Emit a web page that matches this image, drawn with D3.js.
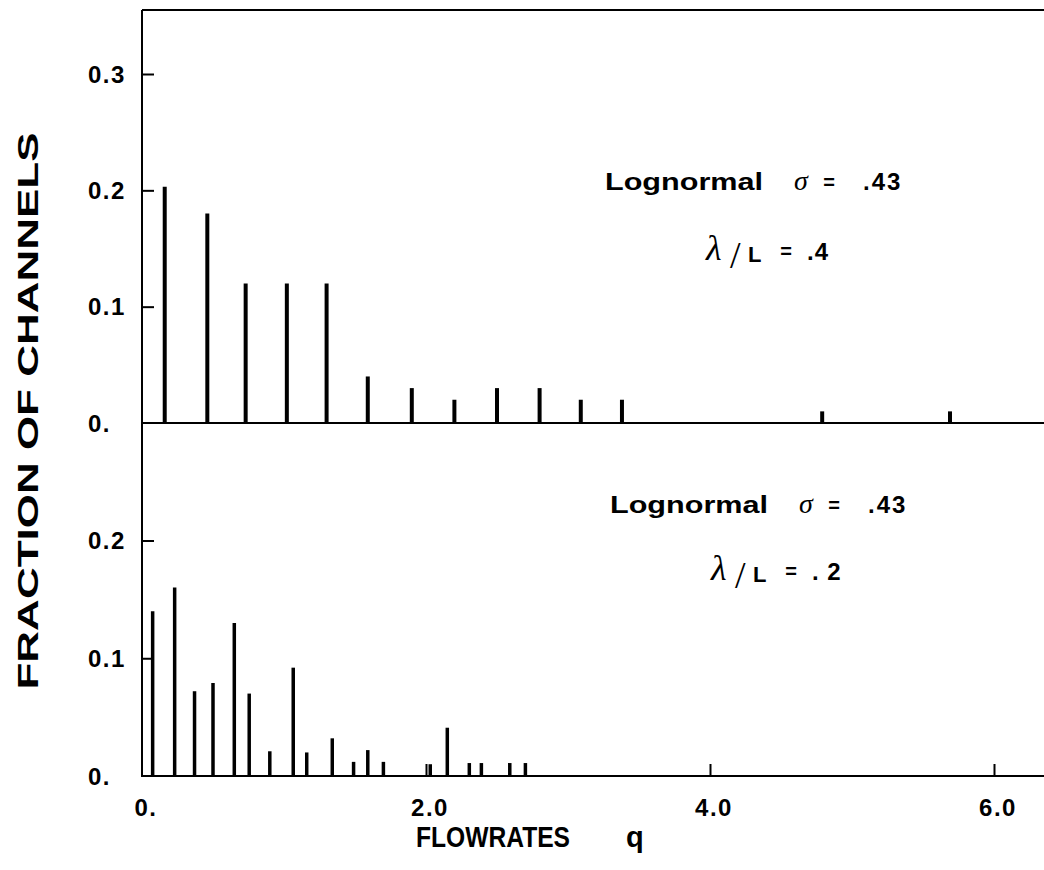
<!DOCTYPE html>
<html>
<head>
<meta charset="utf-8">
<script src="https://cdn.jsdelivr.net/npm/d3@7"></script>
<style>
  html, body { margin: 0; padding: 0; background: #fff; }
  svg { display: block; }
  .lbl { font-family: "Liberation Sans", Arial, sans-serif; font-weight: bold; fill: #000; }
  .greek { font-family: "Liberation Serif", "DejaVu Serif", serif; font-style: italic; fill: #000; }
</style>
</head>
<body>
<svg id="chart" width="1044" height="870"></svg>
<script>
// ---- data ----
const topQ    = [0.16, 0.46, 0.73, 1.02, 1.30, 1.59, 1.90, 2.20, 2.50, 2.80, 3.09, 3.38, 4.79, 5.69];
const topFrac = [0.203, 0.18, 0.12, 0.12, 0.12, 0.04, 0.03, 0.02, 0.03, 0.03, 0.02, 0.02, 0.01, 0.01];

const botQ    = [0.075, 0.23, 0.37, 0.50, 0.65, 0.755, 0.90, 1.065, 1.16, 1.34, 1.49, 1.59, 1.70, 2.03, 2.15, 2.305, 2.39, 2.59, 2.70];
const botFrac = [0.14, 0.16, 0.072, 0.079, 0.13, 0.07, 0.021, 0.092, 0.02, 0.032, 0.012, 0.022, 0.012, 0.01, 0.041, 0.011, 0.011, 0.011, 0.011];

const xTicks      = [0, 2, 4, 6];
const xTickLabels = ["0.", "2.0", "4.0", "6.0"];
const yTopTicks      = [0, 0.1, 0.2, 0.3];
const yTopTickLabels = ["0.", "0.1", "0.2", "0.3"];
const yBotTicks      = [0, 0.1, 0.2];
const yBotTickLabels = ["0.", "0.1", "0.2"];

const xTitle = "FLOWRATES";
const xTitleVar = "q";
const yTitle = "FRACTION OF CHANNELS";
const annoName = "Lognormal";
const annoSigma = ".43";
const annoRatio = [".4", ". 2"];

// ---- layout ----
const svg = d3.select("#chart");
const W = 1044;
const x = d3.scaleLinear().domain([0, 6]).range([142, 994]);
const yTop = d3.scaleLinear().domain([0, 0.3]).range([423, 74]);
const yBot = d3.scaleLinear().domain([0, 0.2]).range([776, 540.5]);
const topEdge = 10;

const ink = "#000";

// frame
const frame = svg.append("g").attr("stroke", ink).attr("stroke-width", 2).attr("fill", "none");
frame.append("line").attr("x1", x(0)).attr("x2", W).attr("y1", topEdge).attr("y2", topEdge);
frame.append("line").attr("x1", x(0)).attr("x2", x(0)).attr("y1", topEdge).attr("y2", yBot(0) + 1);
frame.append("line").attr("x1", x(0)).attr("x2", W).attr("y1", yTop(0)).attr("y2", yTop(0));
frame.append("line").attr("x1", x(0)).attr("x2", W).attr("y1", yBot(0)).attr("y2", yBot(0));

// y ticks (inward)
function yTicksAxis(scale, vals) {
  const g = svg.append("g").attr("transform", `translate(${x(0)},0)`)
    .call(d3.axisLeft(scale).tickValues(vals).tickSize(-12).tickFormat(""));
  g.select(".domain").remove();
  g.selectAll(".tick line").attr("stroke", ink).attr("stroke-width", 2);
}
yTicksAxis(yTop, [0.1, 0.2, 0.3]);
yTicksAxis(yBot, [0.1, 0.2]);

// x ticks (inward, bottom panel)
const xa = svg.append("g").attr("transform", `translate(0,${yBot(0)})`)
  .call(d3.axisBottom(x).tickValues([2, 4, 6]).tickSize(-12).tickFormat(""));
xa.select(".domain").remove();
xa.selectAll(".tick line").attr("stroke", ink).attr("stroke-width", 2);

// y tick labels
function yLabels(scale, vals, labels) {
  svg.append("g").selectAll("text").data(vals).join("text")
    .attr("class", "lbl")
    .attr("x", 88)
    .attr("y", d => scale(d))
    .attr("dy", "0.36em")
    .attr("font-size", 24)
    .attr("letter-spacing", 1.5)
    .text((d, i) => labels[i]);
}
yLabels(yTop, yTopTicks, yTopTickLabels);
yLabels(yBot, yBotTicks, yBotTickLabels);

// x tick labels
svg.append("g").selectAll("text").data(xTicks).join("text")
  .attr("class", "lbl")
  .attr("x", d => x(d) + 4)
  .attr("y", 816)
  .attr("text-anchor", "middle")
  .attr("font-size", 24)
  .attr("letter-spacing", 1.5)
  .text((d, i) => xTickLabels[i]);

// bars
svg.append("g").selectAll("line").data(topQ).join("line")
  .attr("x1", d => x(d)).attr("x2", d => x(d))
  .attr("y1", yTop(0)).attr("y2", (d, i) => yTop(topFrac[i]))
  .attr("stroke", ink).attr("stroke-width", 4);

svg.append("g").selectAll("line").data(botQ).join("line")
  .attr("x1", d => x(d)).attr("x2", d => x(d))
  .attr("y1", yBot(0)).attr("y2", (d, i) => yBot(botFrac[i]))
  .attr("stroke", ink).attr("stroke-width", 3.5);

// axis titles
svg.append("text").attr("class", "lbl")
  .attr("transform", "translate(38,411) rotate(-90)")
  .attr("text-anchor", "middle")
  .attr("font-size", 30)
  .attr("textLength", 557).attr("lengthAdjust", "spacingAndGlyphs")
  .text(yTitle);

svg.append("text").attr("class", "lbl")
  .attr("x", 416).attr("y", 847)
  .attr("font-size", 29)
  .attr("textLength", 154).attr("lengthAdjust", "spacingAndGlyphs")
  .text(xTitle);
svg.append("text").attr("class", "lbl")
  .attr("x", 626).attr("y", 847)
  .attr("font-size", 29)
  .text(xTitleVar);

// annotations
function annotation(x0, base1, base2, ratioText) {
  const g = svg.append("g");
  g.append("text").attr("class", "lbl").attr("x", x0).attr("y", base1)
    .attr("font-size", 24).attr("textLength", 158).attr("lengthAdjust", "spacingAndGlyphs")
    .text(annoName);
  g.append("text").attr("class", "greek").attr("x", x0 + 189).attr("y", base1)
    .attr("font-size", 28).text("σ");
  g.append("text").attr("class", "lbl").attr("x", x0 + 224).attr("y", base1 - 1)
    .attr("text-anchor", "middle").attr("font-size", 20).text("=");
  g.append("text").attr("class", "lbl").attr("x", x0 + 258).attr("y", base1)
    .attr("font-size", 24).attr("letter-spacing", 2).text(annoSigma);
  // λ/L = ratio
  g.append("text").attr("class", "greek").attr("x", x0 + 101).attr("y", base2)
    .attr("font-size", 36).text("λ");
  g.append("text").attr("class", "greek").attr("x", x0 + 125).attr("y", base2 + 8)
    .style("font-style", "normal").attr("font-size", 38).text("/");
  g.append("text").attr("class", "lbl").attr("x", x0 + 143).attr("y", base2 + 2)
    .attr("font-size", 22).text("L");
  g.append("text").attr("class", "lbl").attr("x", x0 + 181).attr("y", base2 - 2)
    .attr("text-anchor", "middle").attr("font-size", 20).text("=");
  g.append("text").attr("class", "lbl").attr("x", x0 + 202).attr("y", base2)
    .attr("font-size", 24).attr("letter-spacing", 1).text(ratioText);
}
annotation(605, 190, 260, annoRatio[0]);
annotation(610, 513, 580, annoRatio[1]);
</script>
</body>
</html>
